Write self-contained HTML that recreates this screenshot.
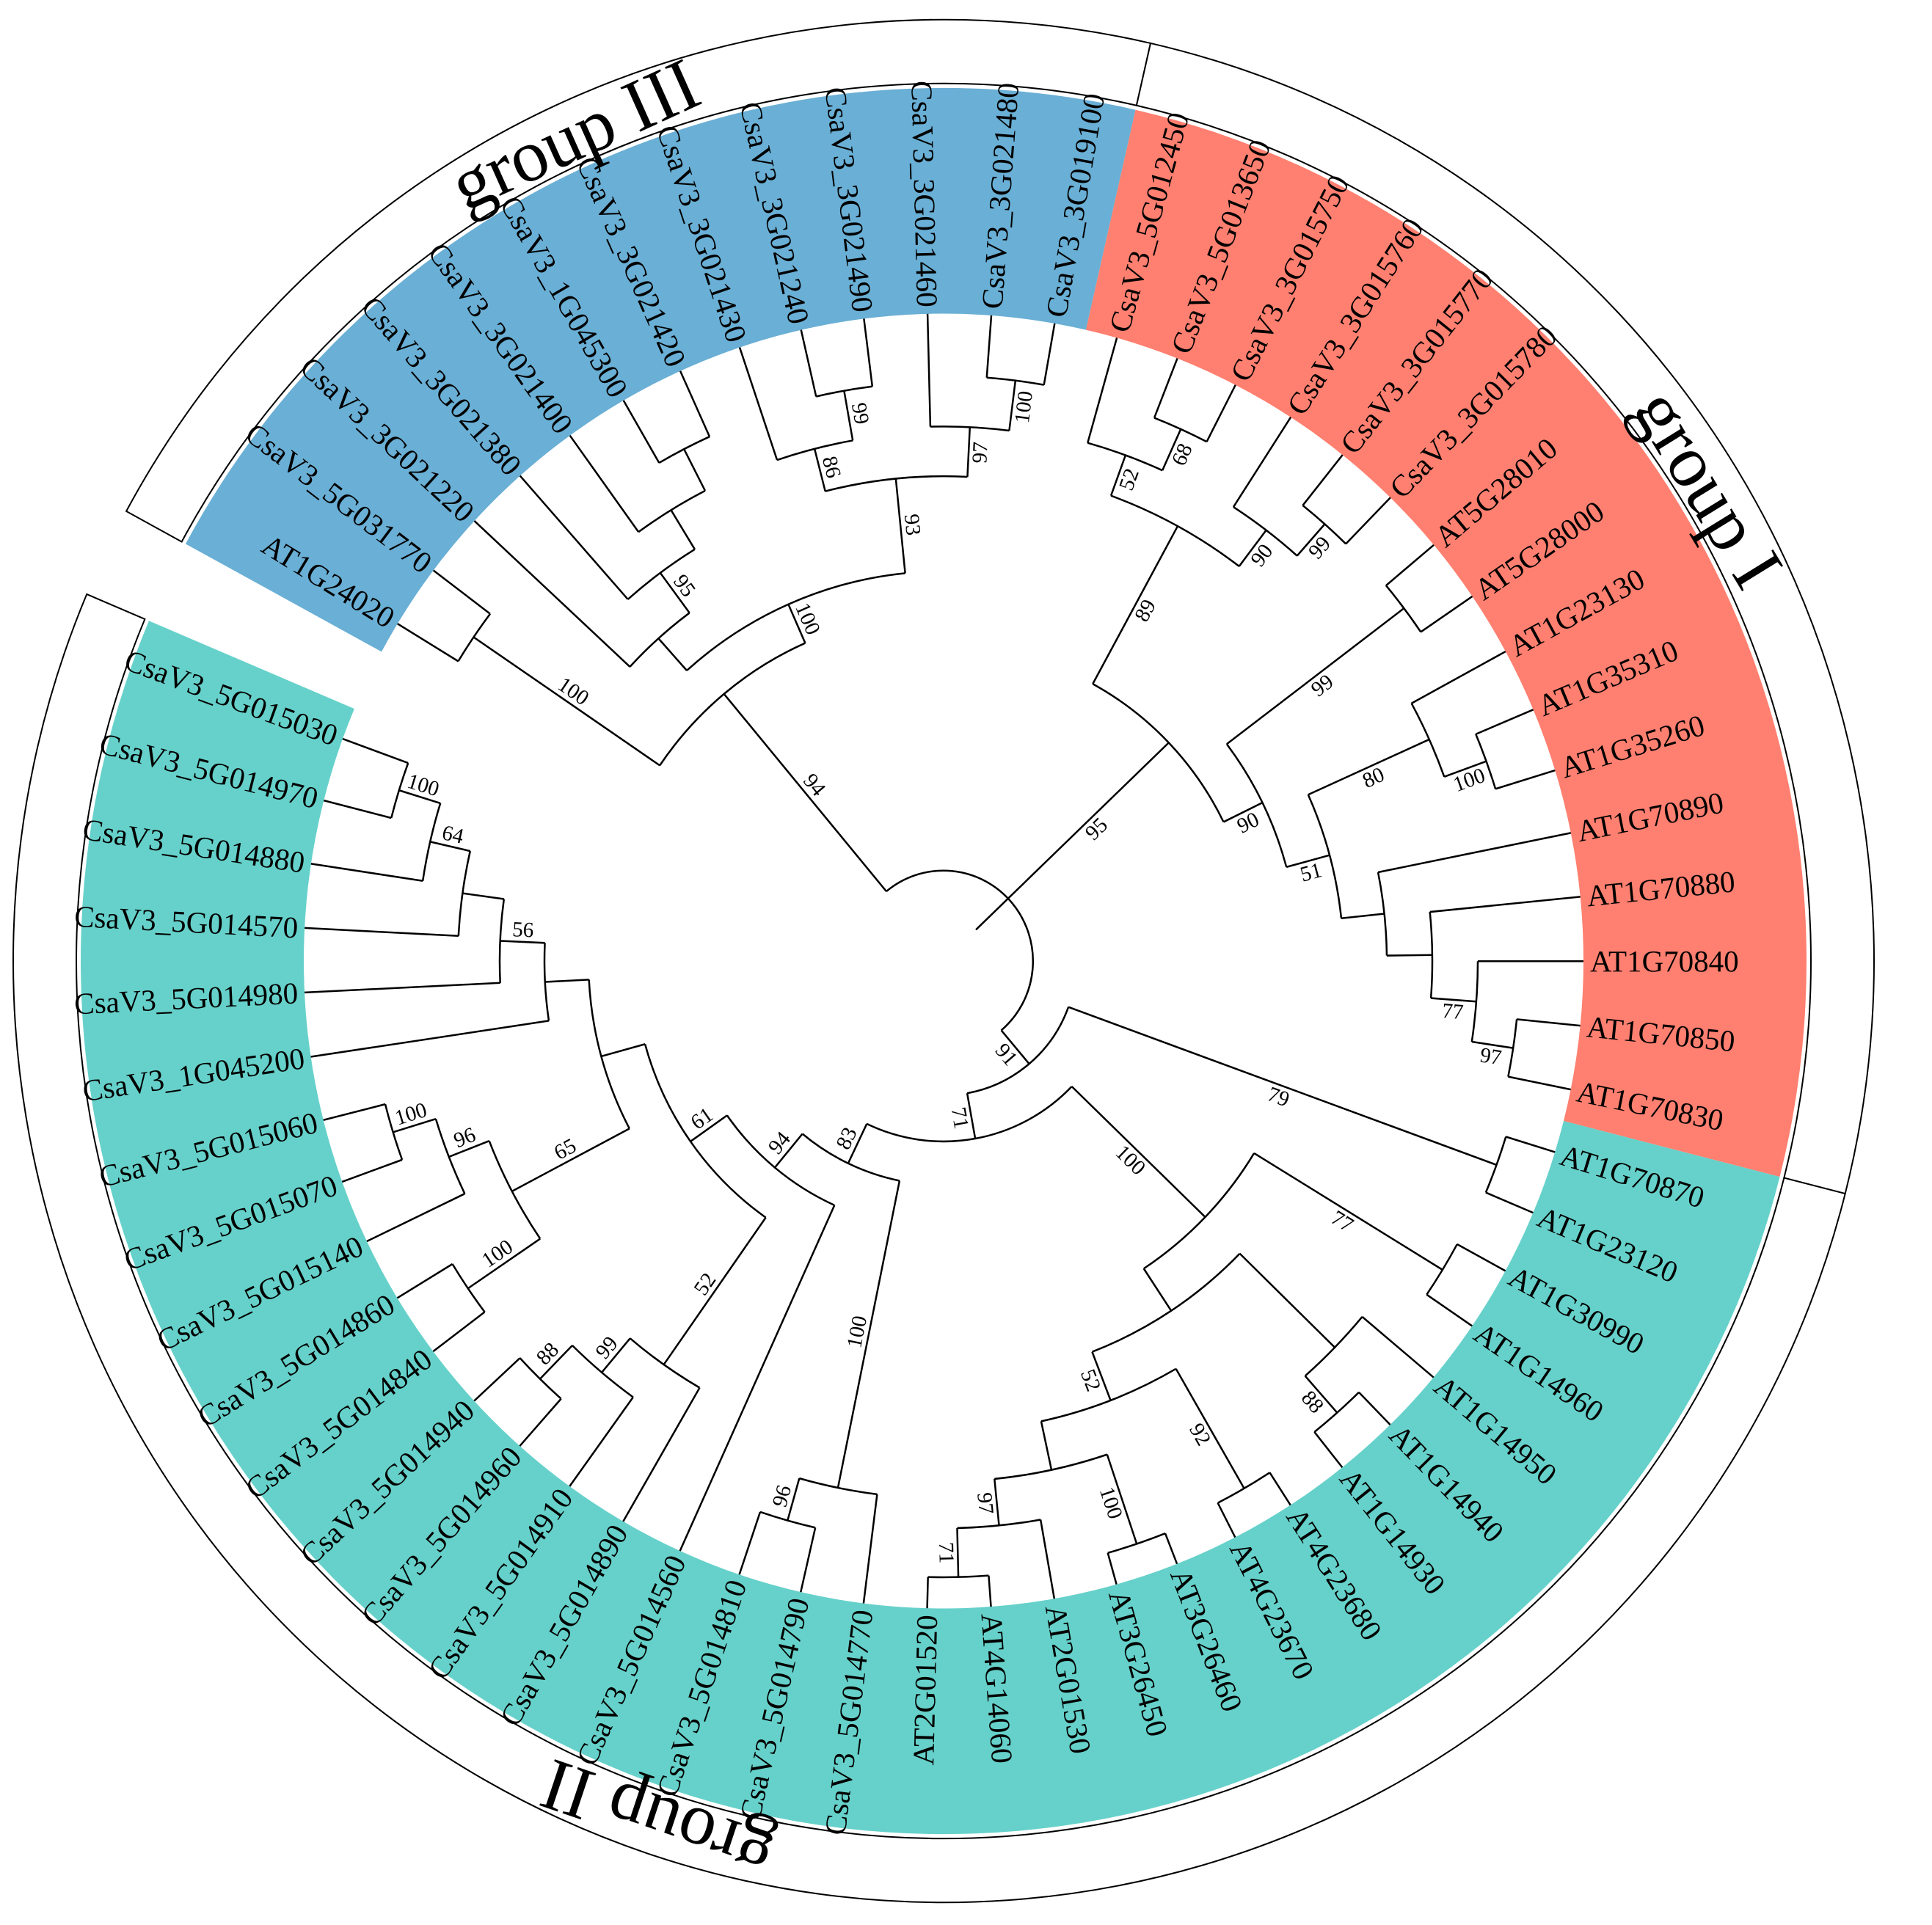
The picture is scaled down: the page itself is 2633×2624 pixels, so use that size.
<!DOCTYPE html>
<html><head><meta charset="utf-8"><title>Phylogenetic tree</title>
<style>
html,body{margin:0;padding:0;background:#fff;}
svg{display:block;}
text{font-family:"Liberation Serif","Times New Roman",serif;fill:#000;}
</style></head>
<body>
<svg id="chart" xmlns="http://www.w3.org/2000/svg" width="2633" height="2624" viewBox="0 0 2633 2624">
<rect x="0" y="0" width="2633" height="2624" fill="#fff"/>
<g id="gAll" transform="translate(0 1310) scale(1 1.012) translate(0 -1310)">
<g id="gRing"></g>
<g id="gBand"></g>
<g id="gTree"></g>
<g id="gBoot"></g>
<g id="gLeaf"></g>
<g id="gGroupText"></g>
</g>
</svg>
<script>
// ---- data ----
const leafNames = ["AT1G24020","CsaV3_5G031770","CsaV3_3G021220","CsaV3_3G021380","CsaV3_3G021400","CsaV3_1G045300","CsaV3_3G021420","CsaV3_3G021430","CsaV3_3G021240","CsaV3_3G021490","CsaV3_3G021460","CsaV3_3G021480","CsaV3_3G019100",
"CsaV3_5G012450","CsaV3_5G013650","CsaV3_3G015750","CsaV3_3G015760","CsaV3_3G015770","CsaV3_3G015780","AT5G28010","AT5G28000","AT1G23130","AT1G35310","AT1G35260","AT1G70890","AT1G70880","AT1G70840","AT1G70850","AT1G70830",
"AT1G70870","AT1G23120","AT1G30990","AT1G14960","AT1G14950","AT1G14940","AT1G14930","AT4G23680","AT4G23670","AT3G26460","AT3G26450","AT2G01530","AT4G14060","AT2G01520",
"CsaV3_5G014770","CsaV3_5G014790","CsaV3_5G014810","CsaV3_5G014560","CsaV3_5G014890","CsaV3_5G014910","CsaV3_5G014960","CsaV3_5G014940","CsaV3_5G014840","CsaV3_5G014860","CsaV3_5G015140","CsaV3_5G015070","CsaV3_5G015060","CsaV3_1G045200","CsaV3_5G014980","CsaV3_5G014570","CsaV3_5G014880","CsaV3_5G014970","CsaV3_5G015030"];
const leafParent = ["B","B","D","F","G","H","H","I","K","K","J","L","L",
"P","R","R","Q","S","S","T","T","V","X","X","W","Y","Z","AA","AA",
"AB","AB","N77","N77","AD","AE","AE","AG","AG","AI","AI","AJ","AK","AK",
"N100f","N96b","N96b","N94","N52b","N99","N88","N88","N100e","N100e","N96","N100d","N100d","N544","N56","N62","N64","N100c","N100c"];
const nodeIds     = ["root","A","B","C","D","F","G","H","E","I","K","J","L","M","N","P","R","Q","S","O","T","U","V","X","W","Y","Z","AA","N91","AB","N71","N100a","N77","AC","AD","AE","AF","AG","AH","AI","AJ","AK","N83","N94","N61","NX","N544","N56","N62","N64","N100c","N65","N96","N100d","N100e","N52b","N99","N88","N100f","N96b"];
const nodeParent  = ["","root","A","A","C","D","F","G","C","E","I","E","J","root","M","N","P","N","Q","M","O","O","U","V","U","W","Y","Z","root","N91","N91","N71","N100a","N100a","AC","AD","AC","AF","AF","AH","AH","AJ","N71","N83","N94","N61","NX","N544","N56","N62","N64","NX","N65","N96","N65","N61","N52b","N99","N83","N100f"];
const nodeRadius  = [122,468,775,525,583,650,712,775,653,712,780,720,788,425,667,725,786,728,785,484,787,545,726,787,604,666,728,785,181,802,243,496,797,564,745,811,634,820,701,828,764,830,302,361,422,484,544,605,662,718,777,665,724,785,784,664,724,787,724,783];
const nodeSupport = ["","94","100","100","","95","","","93","86","99","97","100","95","89","52","68","90","99","90","99","51","80","100","","","77","97","91","79","71","100","77","","","88","52","92","","100","97","71","83","94","61","","","56","","64","100","65","96","100","100","52","99","88","100","96"];
const groupNames = ["group III","group I","group II"];
const groupFirstLeaf = [0,13,29];
const groupLastLeaf  = [12,28,61];
const groupColors = ["#6aafd5","#ff8070","#66d1ca"];

// ---- layout ----
const NS="http://www.w3.org/2000/svg";
const CX=1286, CY=1310, A0=-148.6, STEP=5.716, RTIP=872;
const BAND_IN=872, BAND_OUT=1176, RING_IN=1182, RING_OUT=1268, GROUP_TEXT_R=1222;
function leafAngle(i){return A0+i*STEP;}
function pol(r,deg){const a=deg*Math.PI/180;return [CX+r*Math.cos(a),CY+r*Math.sin(a)];}
function f(p){return p[0].toFixed(2)+","+p[1].toFixed(2);}
function mk(tag,attrs,parent){const e=document.createElementNS(NS,tag);for(const k in attrs)e.setAttribute(k,attrs[k]);parent.appendChild(e);return e;}
function sectorPath(r1,r2,a1,a2){const lg=(a2-a1)>180?1:0;
  return "M"+f(pol(r2,a1))+" A"+r2+","+r2+" 0 "+lg+" 1 "+f(pol(r2,a2))+" L"+f(pol(r1,a2))+" A"+r1+","+r1+" 0 "+lg+" 0 "+f(pol(r1,a1))+" Z";}
function norm(a){while(a>=180)a-=360;while(a<-180)a+=360;return a;}
function textRot(a){const n=norm(a);return (n>-90&&n<=90)?[n,false]:[n+180,true];}

const gRing=document.getElementById('gRing'),gBand=document.getElementById('gBand'),gTree=document.getElementById('gTree'),gBoot=document.getElementById('gBoot'),gLeaf=document.getElementById('gLeaf'),gGT=document.getElementById('gGroupText');

// bands & rings
for(let g=0;g<groupNames.length;g++){
  const a1=leafAngle(groupFirstLeaf[g])-STEP/2, a2=leafAngle(groupLastLeaf[g])+STEP/2;
  const band=mk('path',{d:sectorPath(BAND_IN,BAND_OUT,a1,a2),fill:groupColors[g],stroke:'none'},gBand);
  
  
  const ring=mk('path',{d:sectorPath(RING_IN,RING_OUT,a1,a2),fill:'#fff',stroke:'#000','stroke-width':2},gRing);
  
  
  const am=(a1+a2)/2, p=pol(GROUP_TEXT_R,am);
  const t=mk('text',{x:p[0].toFixed(2),y:p[1].toFixed(2),'font-size':100,'text-anchor':'middle','dominant-baseline':'central',transform:'rotate('+(am+90).toFixed(2)+' '+p[0].toFixed(2)+' '+p[1].toFixed(2)+')'},gGT);
  t.textContent=groupNames[g];
  
  
}

// tree structure
const children={};nodeIds.forEach(id=>children[id]=[]);
nodeIds.forEach((id,i)=>{if(nodeParent[i])children[nodeParent[i]].push({type:'n',id:id});});
leafParent.forEach((p,i)=>children[p].push({type:'l',i:i}));
const rad={};nodeIds.forEach((id,i)=>rad[id]=nodeRadius[i]);
const ang={};
function nodeAngle(id){
  if(ang[id]!==undefined)return ang[id].a;
  const as=children[id].map(c=>c.type==='l'?leafAngle(c.i):nodeAngle(c.id));
  const mn=Math.min(...as),mx=Math.max(...as);
  ang[id]={a:(mn+mx)/2,mn:mn,mx:mx};return ang[id].a;
}
nodeIds.forEach(id=>nodeAngle(id));
const SW=2.5;
// arcs
nodeIds.forEach(id=>{
  const o=ang[id],r=rad[id];const lg=(o.mx-o.mn)>180?1:0;
  const arc=mk('path',{d:"M"+f(pol(r,o.mn))+" A"+r+","+r+" 0 "+lg+" 1 "+f(pol(r,o.mx)),fill:'none',stroke:'#000','stroke-width':SW},gTree);
  
  
});
// radial branches for internal nodes
nodeIds.forEach((id,i)=>{
  const par=nodeParent[i];
  if(!par){
    const a=ang['M'].a;
    const q1=pol(rad[id],a),q2=pol(61,a);
    const stub=mk('line',{x1:q1[0],y1:q1[1],x2:q2[0],y2:q2[1],stroke:'#000','stroke-width':SW},gTree);
    
    
    return;
  }
  const a=ang[id].a,p1=pol(rad[par],a),p2=pol(rad[id],a);
  const ln=mk('line',{x1:p1[0],y1:p1[1],x2:p2[0],y2:p2[1],stroke:'#000','stroke-width':SW},gTree);
  
  
  if(nodeSupport[i]){
    const rm=(rad[par]+rad[id])/2, pm=pol(rm,a), th=a*Math.PI/180;
    const px=pm[0]-16*Math.sin(th), py=pm[1]+16*Math.cos(th);
    const tr=textRot(a);
    const bt=mk('text',{x:px.toFixed(2),y:py.toFixed(2),'font-size':29,'text-anchor':'middle','dominant-baseline':'central',transform:'rotate('+tr[0].toFixed(2)+' '+px.toFixed(2)+' '+py.toFixed(2)+')'},gBoot);
    bt.textContent=nodeSupport[i];
    
    
  }
});
// leaves
leafNames.forEach((nm,i)=>{
  const a=leafAngle(i),p1=pol(rad[leafParent[i]],a),p2=pol(RTIP,a);
  const ln=mk('line',{x1:p1[0],y1:p1[1],x2:p2[0],y2:p2[1],stroke:'#000','stroke-width':SW},gTree);
  
  
  const pt=pol(RTIP+9,a),tr=textRot(a);
  const t=mk('text',{x:pt[0].toFixed(2),y:pt[1].toFixed(2),'font-size':41,'text-anchor':tr[1]?'end':'start','dominant-baseline':'central',transform:'rotate('+tr[0].toFixed(2)+' '+pt[0].toFixed(2)+' '+pt[1].toFixed(2)+')'},gLeaf);
  t.textContent=nm;
  
  
});
</script>
</body></html>
